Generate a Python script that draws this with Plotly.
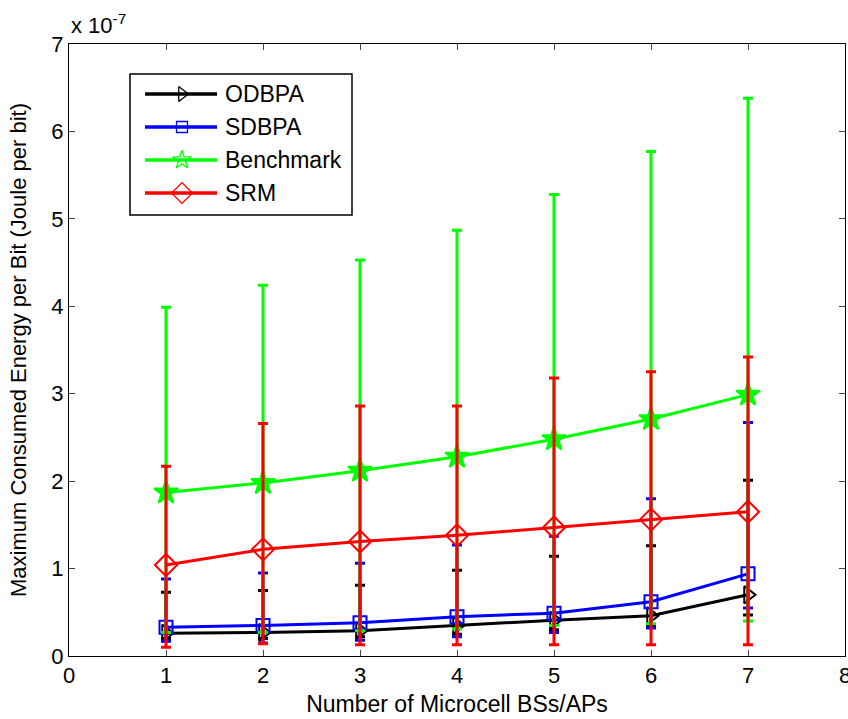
import plotly.graph_objects as go

# ---- data (values in units of 1e-7 Joule per bit) ----
x_vals = [1, 2, 3, 4, 5, 6, 7]

odbpa_mean = [0.26, 0.27, 0.29, 0.35, 0.41, 0.46, 0.70]
odbpa_upper = [0.73, 0.75, 0.81, 0.98, 1.14, 1.26, 2.01]
odbpa_lower = [0.20, 0.20, 0.22, 0.25, 0.30, 0.35, 0.47]

sdbpa_mean = [0.33, 0.35, 0.38, 0.45, 0.49, 0.62, 0.94]
sdbpa_upper = [0.88, 0.95, 1.06, 1.27, 1.37, 1.80, 2.67]
sdbpa_lower = [0.17, 0.15, 0.18, 0.22, 0.27, 0.32, 0.55]

bench_mean = [1.87, 1.98, 2.12, 2.28, 2.48, 2.71, 2.99]
bench_upper = [3.99, 4.24, 4.53, 4.87, 5.28, 5.77, 6.38]
bench_lower = [0.27, 0.27, 0.29, 0.31, 0.35, 0.37, 0.40]

srm_mean = [1.04, 1.22, 1.31, 1.38, 1.47, 1.56, 1.65]
srm_upper = [2.17, 2.66, 2.86, 2.86, 3.18, 3.25, 3.42]
srm_lower = [0.10, 0.14, 0.13, 0.13, 0.13, 0.13, 0.13]

x_ticks = [0, 1, 2, 3, 4, 5, 6, 7, 8]
y_ticks = [0, 1, 2, 3, 4, 5, 6, 7]

series = [
    ("ODBPA", odbpa_mean, odbpa_upper, odbpa_lower, "#000000", "triangle-right-open", 15, 13),
    ("SDBPA", sdbpa_mean, sdbpa_upper, sdbpa_lower, "#0000ff", "square-open", 13, 11),
    ("Benchmark", bench_mean, bench_upper, bench_lower, "#00ff00", "star", 18, 14),
    ("SRM", srm_mean, srm_upper, srm_lower, "#ff0000", "diamond-open", 17, 16),
]

FONT = "Liberation Sans, Arial, Helvetica, sans-serif"
fig = go.Figure()

for name, m, up, lo, col, sym, sz, lsz in series:
    plus = [u - v for u, v in zip(up, m)]
    minus = [v - l for v, l in zip(m, lo)]
    fig.add_trace(go.Scatter(
        x=x_vals, y=m, mode="lines+markers", name=name, showlegend=False,
        line=dict(color=col, width=3),
        marker=dict(symbol=sym, size=sz, color=col, line=dict(color=col, width=2)),
        error_y=dict(type="data", symmetric=False, array=plus, arrayminus=minus,
                     color=col, thickness=3, width=5),
    ))

# ---- custom legend (on an overlay pixel-like axis) ----
leg_y = [50, 83, 116, 149]
for (name, m, up, lo, col, sym, sz, lsz), ly in zip(series, leg_y):
    fig.add_trace(go.Scatter(
        x=[76, 148], y=[ly, ly], mode="lines", xaxis="x2", yaxis="y2",
        line=dict(color=col, width=3.5), showlegend=False, hoverinfo="skip"))
    fig.add_trace(go.Scatter(
        x=[113], y=[ly], mode="markers", xaxis="x2", yaxis="y2",
        marker=dict(symbol=sym if sym != "star" else "star-open", size=lsz,
                    color=col, line=dict(color=col, width=1.3)),
        showlegend=False, hoverinfo="skip"))
    fig.add_annotation(x=154, y=ly, xref="x2", yref="y2", text=name,
                       showarrow=False, xanchor="left", yanchor="middle",
                       font=dict(family=FONT, size=23, color="black"))

fig.add_shape(type="rect", xref="x2", yref="y2", x0=61, x1=283, y0=30, y1=171,
              line=dict(color="black", width=1.5), fillcolor="rgba(0,0,0,0)")

fig.add_annotation(x=0, y=1, xref="paper", yref="paper", text="x 10<sup>-7</sup>",
                   showarrow=False, xanchor="left", yanchor="bottom", yshift=4,
                   font=dict(family=FONT, size=22, color="black"))

fig.update_layout(
    width=848, height=719,
    margin=dict(l=69, r=3, t=44, b=63, autoexpand=False),
    paper_bgcolor="white", plot_bgcolor="white",
    font=dict(family=FONT, size=22, color="black"),
    showlegend=False,
    xaxis=dict(range=[0, 8], tickvals=x_ticks, ticks="inside", ticklen=6,
               showline=True, linecolor="black", linewidth=1, mirror="ticks",
               showgrid=False, zeroline=False, tickfont=dict(size=22),
               ticklabeloverflow="allow", automargin=False,
               title=dict(text="Number of Microcell BSs/APs", standoff=8,
                          font=dict(family=FONT, size=23))),
    yaxis=dict(range=[0, 7], tickvals=y_ticks, ticks="inside", ticklen=6,
               showline=True, linecolor="black", linewidth=1, mirror="ticks",
               showgrid=False, zeroline=False, tickfont=dict(size=22),
               ticklabeloverflow="allow", automargin=False,
               title=dict(text="Maximum Consumed Energy per Bit (Joule per bit)", standoff=18,
                          font=dict(family=FONT, size=22))),
    xaxis2=dict(range=[0, 776], overlaying="x", anchor="y2", visible=False, automargin=False),
    yaxis2=dict(range=[612, 0], overlaying="y", anchor="x2", visible=False, automargin=False),
)

fig.write_html("out.html")
